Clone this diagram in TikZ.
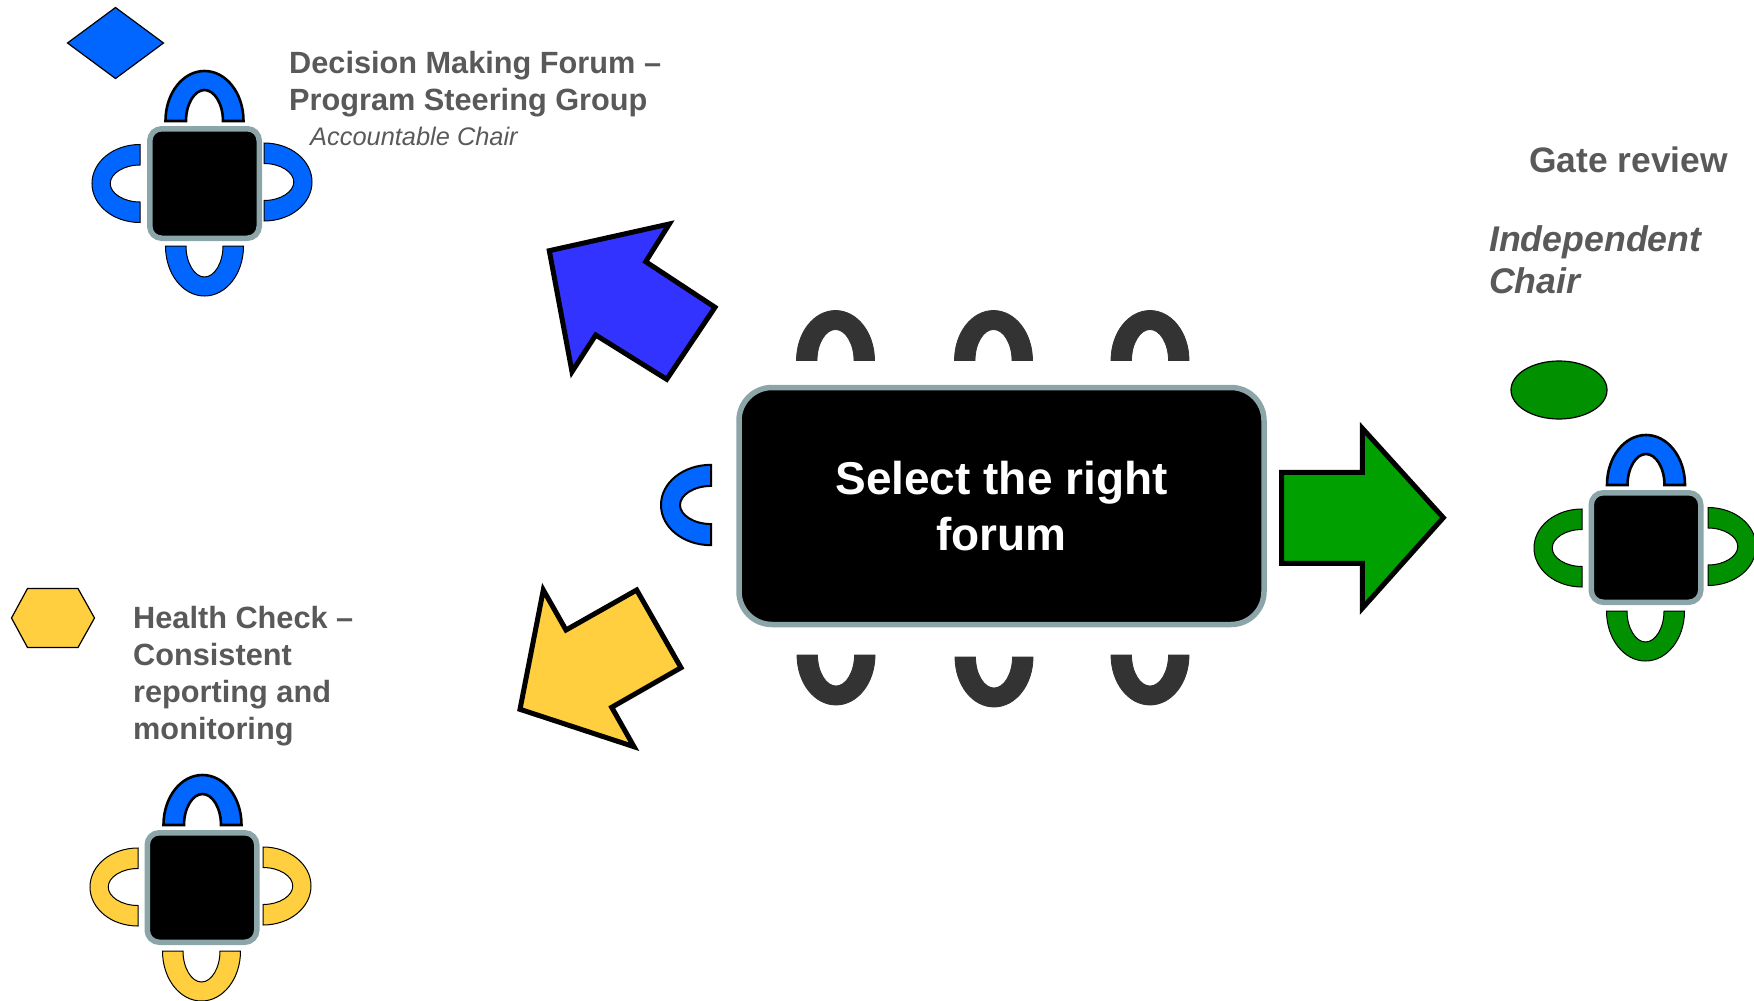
\documentclass[tikz,border=0pt]{standalone}
\usepackage{fontspec}
\usetikzlibrary{shapes.geometric}
\setmainfont{Liberation Sans}
\definecolor{chairblue}{HTML}{0066FF}
\definecolor{arrowblue}{HTML}{3333FF}
\definecolor{chairgreen}{HTML}{009000}
\definecolor{arrowgreen}{HTML}{00A000}
\definecolor{sunny}{HTML}{FFCF40}
\definecolor{chairdark}{HTML}{333333}
\definecolor{rim}{HTML}{8BA5A8}
\definecolor{label}{HTML}{595959}
\tikzset{
  tablebox/.style={draw=rim,fill=black,line width=5.5pt,rounded corners=12pt,minimum width=109.5pt,minimum height=109.5pt,inner sep=0pt},
  bigtable/.style={draw=rim,fill=black,line width=5.5pt,rounded corners=33pt,minimum width=525pt,minimum height=237pt,inner sep=0pt,text=white,align=center,font=\fontsize{46}{56}\selectfont\bfseries},
  bigarrow/.style={draw=black,line width=5pt,miter limit=10},
  heavy/.style={draw=black,line width=2.6pt},
  thin edge/.style={draw=black,line width=1pt},
  side edge/.style={draw=black,line width=1pt,yscale=.96},
  dark edge/.style={draw=chairdark,line width=0.8pt},
  caption/.style={text=label,anchor=north west,inner sep=0pt,align=left,font=\fontsize{30.7}{37}\selectfont\bfseries}
}
% x, y of the base centre, rotation, fill, style of the edge
\newcommand{\seat}[5]{%
  \begin{scope}[shift={(#1,#2)},rotate=#3]
    \path[fill=#4,#5] (-39,0) .. controls (-39,-28) and (-21.5,-50) .. (0,-50)
      .. controls (21.5,-50) and (39,-28) .. (39,0) -- (18.5,0)
      .. controls (18.5,-17) and (10,-31) .. (0,-31)
      .. controls (-10,-31) and (-18.5,-17) .. (-18.5,0) -- cycle;
  \end{scope}}
\begin{document}
\begin{tikzpicture}[x=1pt,y=-1pt]
\useasboundingbox (0,0) rectangle (1754,1001);
% top-left forum
\path[fill=chairblue,draw=black,line width=1.2pt] (67.5,43) -- (115.5,7.5) -- (163.5,43) -- (115.5,78.5) -- cycle;
\seat{204.5}{121}{0}{chairblue}{heavy}
\seat{140}{183.5}{90}{chairblue}{side edge}
\seat{264}{182}{-90}{chairblue}{side edge}
\seat{204.5}{246}{180}{chairblue}{thin edge}
\node[tablebox] (t1) at (204.5,183.5) {};
\node[caption] (c1) at (289,51) {Decision Making Forum –\\Program Steering Group};
\node[caption,font=\fontsize{25.4}{30}\selectfont\itshape,anchor=base west] (c1b) at (310,145) {Accountable Chair};
% bottom-left forum
\path[fill=sunny,draw=black,line width=1.2pt] (11.5,618) -- (27.5,588.5) -- (78,588.5) -- (94.5,618) -- (78,647.5) -- (27.5,647.5) -- cycle;
\seat{202.5}{825}{0}{chairblue}{heavy}
\seat{138}{887}{90}{sunny}{side edge}
\seat{263}{886}{-90}{sunny}{side edge}
\seat{201.5}{951}{180}{sunny}{thin edge}
\node[tablebox] (t2) at (202,887.5) {};
\node[caption] (c2) at (133,606) {Health Check –\\Consistent\\reporting and\\monitoring};
% right forum
\node[ellipse,draw=black,fill=chairgreen,line width=1.2pt,minimum width=96pt,minimum height=58pt,inner sep=0pt] (e3) at (1559,390) {};
\seat{1646}{485}{0}{chairblue}{heavy}
\seat{1582}{548}{90}{chairgreen}{side edge}
\seat{1708}{546.5}{-90}{chairgreen}{side edge}
\seat{1645.5}{611}{180}{chairgreen}{thin edge}
\node[tablebox] (t3) at (1646,547.5) {};
\node[caption,font=\fontsize{35.4}{42}\selectfont\bfseries,anchor=base west] (c3) at (1529,172) {Gate review};
\node[caption,font=\fontsize{35.7}{42.5}\selectfont\bfseries\itshape] (c3b) at (1489,225) {Independent\\Chair};
% centre table
\node[bigtable] (main) at (1001.5,506) {Select the right\\forum};
\seat{835.5}{360.5}{0}{chairdark}{dark edge}
\seat{993.5}{360.5}{0}{chairdark}{dark edge}
\seat{1150}{360.5}{0}{chairdark}{dark edge}
\seat{836}{655}{180}{chairdark}{dark edge}
\seat{994}{657}{180}{chairdark}{dark edge}
\seat{1150}{655}{180}{chairdark}{dark edge}
\seat{711}{505}{90}{chairblue}{draw=black,line width=2pt,xscale=1.03}
% arrows
\path[bigarrow,fill=arrowblue] (549.3,250.7) -- (669.3,224) -- (645.7,261.7) -- (715,307.3) -- (666.7,379.3) -- (595.7,335) -- (572,371.7) -- cycle;
\path[bigarrow,fill=sunny] (520,709.3) -- (543.3,590) -- (566,630) -- (636.7,590) -- (681,667.7) -- (611.7,707.3) -- (634,746.7) -- cycle;
\path[bigarrow,fill=arrowgreen] (1281.7,472.3) -- (1362.3,472.3) -- (1362.3,428.3) -- (1443.3,517.7) -- (1362.3,608.3) -- (1362.3,563.3) -- (1281.7,563.3) -- cycle;
\end{tikzpicture}
\end{document}
